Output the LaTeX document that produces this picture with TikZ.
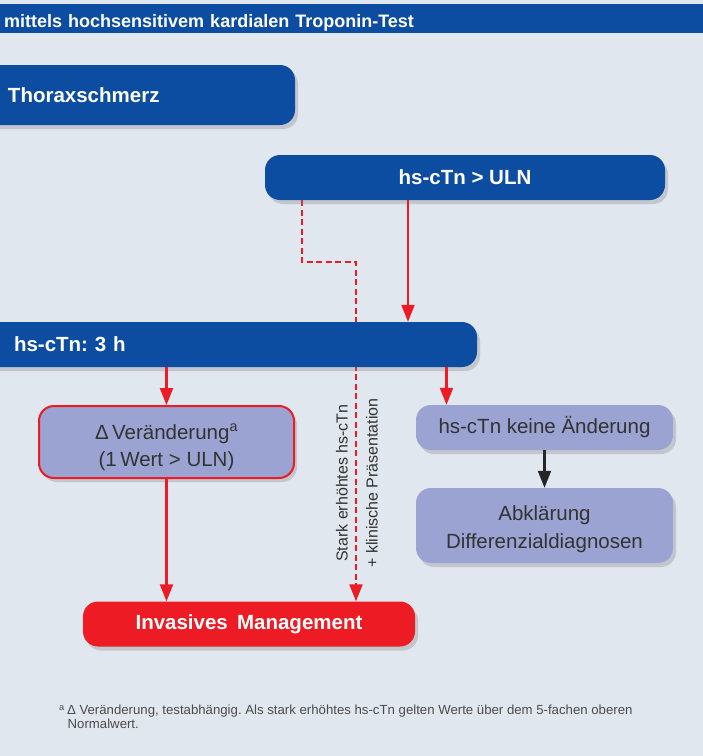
\documentclass[tikz,border=0pt]{standalone}
\usepackage{fontspec}
\setmainfont{Liberation Sans}
\usetikzlibrary{arrows.meta,shadows,backgrounds}
\definecolor{bgblue}{HTML}{E1E7EF}
\definecolor{darkblue}{HTML}{0D4DA1}
\definecolor{lavender}{HTML}{9AA3D2}
\definecolor{alarmred}{HTML}{ED1C24}
\definecolor{txtgray}{HTML}{333333}
\frenchspacing
\begin{document}
\begin{tikzpicture}[x=1pt, y=-1pt,
    box/.style={rectangle, rounded corners=15pt, drop shadow={shadow xshift=3pt, shadow yshift=-4pt, opacity=0.3}},
    bluebox/.style={box, fill=darkblue, text=white, font=\bfseries\fontsize{20.5}{24}\selectfont},
    lilabox/.style={box, fill=lavender, text=txtgray, align=center, font=\fontsize{20.5}{27.5}\selectfont},
    redarrow/.style={draw=alarmred, line width=2.2pt, -{Triangle[length=17pt,width=13pt]}},
    blackarrow/.style={draw=black!85, line width=2.2pt, -{Triangle[length=17pt,width=13pt]}}]
    \useasboundingbox (0,0) rectangle (703,756);

    \node[rectangle, fill=darkblue, anchor=north west, minimum width=703, minimum height=29, inner xsep=4pt, text width=695, text height=17pt, text depth=0pt, align=left, text=white, font=\bfseries\fontsize{18}{20}\selectfont] at (0,4) (TITLE) {mittels hochsensitivem kardialen Troponin-Test};

    \node[bluebox, minimum height=60, inner xsep=28pt, text width=259, align=left] at (137.5,95) (TS) {Thoraxschmerz};
    \node[bluebox, minimum width=400, minimum height=45] at (465,177.5) (ULN) {hs-cTn > ULN};
    \node[bluebox, minimum height=45, inner xsep=34pt, text width=429, align=left] at (228.5,344.5) (H3) {hs-cTn: 3 h};

    \node[lilabox, draw=alarmred, line width=2pt, minimum width=255, minimum height=72] at (166.5,442) (DV) {\rule{0pt}{26pt}Δ\,Veränderung\textsuperscript{a}\\(1\,Wert > ULN)};
    \node[lilabox, minimum width=257, minimum height=45] at (544.5,427.5) (KA) {hs-cTn keine Änderung};
    \node[lilabox, minimum width=257, minimum height=75] at (544.5,525.5) (AD) {\rule{0pt}{22pt}Abklärung\\Differenzialdiagnosen};
    \node[box, fill=alarmred, text=white, minimum width=332, minimum height=45, font=\bfseries\fontsize{20.5}{24}\selectfont] at (249,624) (IM) {Invasives\hspace{0.45em}Management};

    \node[rotate=90, align=center, text=txtgray, font=\fontsize{16}{30}\selectfont] at (357,483) (ROT) {Stark erhöhtes hs-cTn\\+ klinische Präsentation};

    \node[anchor=north west, inner sep=0pt, align=left, text=black!70, font=\fontsize{13.2}{14}\selectfont] at (59,705) (NOTE) {\textsuperscript{a}\,Δ Veränderung, testabhängig. Als stark erhöhtes hs-cTn gelten Werte über dem 5-fachen oberen\\\hspace*{8.5pt}Normalwert.};

    \begin{scope}[on background layer]
        \fill[bgblue] (0,0) rectangle (703,756);
        \draw[redarrow, dash pattern=on 6pt off 3.5pt] ([xshift=-163pt]ULN.south) -- ++(0,62) -| ([xshift=107pt]IM.north);
    \end{scope}

    \draw[redarrow] ([xshift=-57pt]ULN.south) -- ([xshift=-57pt]ULN.south |- H3.north);
    \draw[redarrow] (H3.south -| DV.north) -- (DV.north);
    \draw[redarrow] ([xshift=-98pt]KA.north |- H3.south) -- ([xshift=-98pt]KA.north);
    \draw[redarrow] (DV.south) -- (DV.south |- IM.north);
    \draw[blackarrow] (KA.south) -- (AD.north);

\end{tikzpicture}
\end{document}
